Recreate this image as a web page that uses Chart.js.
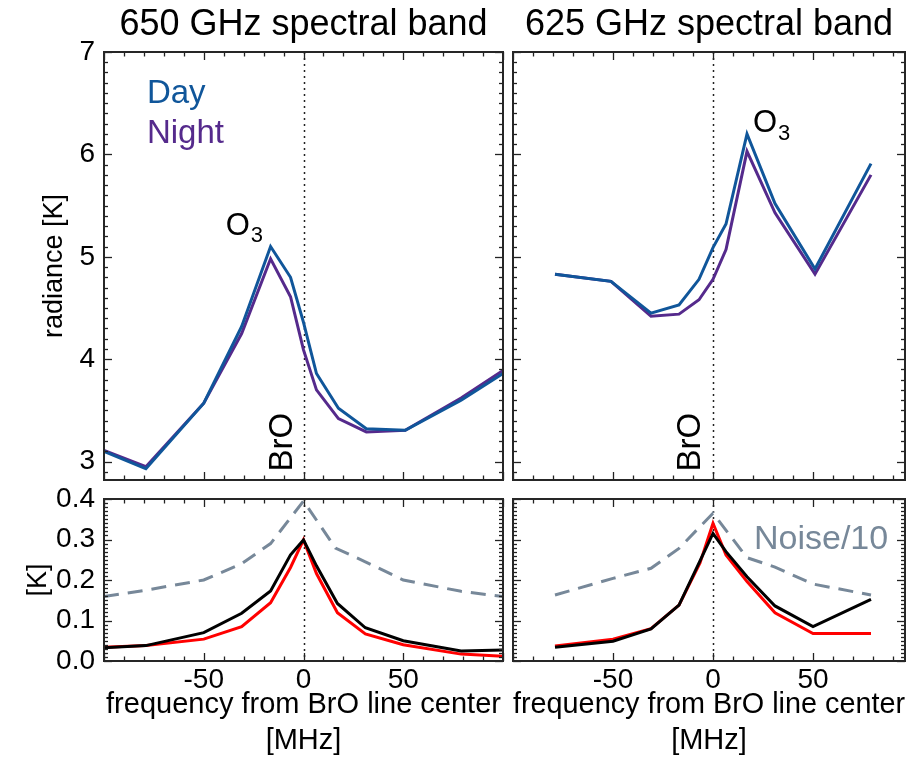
<!DOCTYPE html>
<html>
<head>
<meta charset="utf-8">
<script src="https://cdn.jsdelivr.net/npm/chart.js@4.4.1/dist/chart.umd.min.js"></script>
<style>
html,body{margin:0;padding:0;background:#fff;overflow:hidden;width:911px;height:757px;position:relative;}
canvas{position:absolute;}
</style>
</head>
<body>
<canvas id="cA" width="607" height="485" style="left:0;top:0;width:607px;height:485px"></canvas>
<canvas id="cB" width="404" height="485" style="left:507px;top:0;width:404px;height:485px"></canvas>
<canvas id="cC" width="607" height="276" style="left:0;top:485px;width:607px;height:276px"></canvas>
<canvas id="cD" width="404" height="276" style="left:507px;top:485px;width:404px;height:276px"></canvas>
<script>
// ---------------- data ----------------
const panelTitles = ['650 GHz spectral band', '625 GHz spectral band'];
const xTickValues = [-50, 0, 50];
const topYTickValues = [3, 4, 5, 6, 7];
const botYTickValues = [0, 0.1, 0.2, 0.3, 0.4];

// top panels: radiance [K]
const freq650Top = [-100, -79, -50, -31, -16.5, -6.5, 0, 6.5, 17.5, 31.5, 51, 79, 100];
const day650    = [3.10, 2.93, 3.57, 4.32, 5.10, 4.80, 4.36, 3.86, 3.52, 3.32, 3.305, 3.60, 3.86];
const night650  = [3.11, 2.95, 3.57, 4.25, 4.98, 4.61, 4.09, 3.70, 3.42, 3.29, 3.305, 3.62, 3.89];

const freq625Top = [-79, -51, -31, -17, -7, 0, 6.5, 17, 31, 51, 79];
const day625     = [4.83, 4.76, 4.45, 4.53, 4.78, 5.09, 5.32, 6.20, 5.52, 4.88, 5.91];
const night625   = [4.83, 4.76, 4.42, 4.44, 4.58, 4.78, 5.07, 6.03, 5.43, 4.83, 5.80];

// bottom panels: [K]
const freq650Bot = [-100, -79, -50, -31, -16.5, -6.5, 0, 6.5, 17, 31, 50, 79, 100];
const black650   = [0.033, 0.038, 0.070, 0.118, 0.173, 0.262, 0.299, 0.235, 0.142, 0.082, 0.050, 0.025, 0.027];
const red650     = [0.034, 0.038, 0.054, 0.085, 0.144, 0.231, 0.299, 0.216, 0.119, 0.067, 0.040, 0.017, 0.012];
const noiseFreq650 = [-100, -79, -50, -31, -16.5, 0, 16, 31, 50, 79, 100];
const noise650     = [0.159, 0.175, 0.200, 0.240, 0.290, 0.395, 0.279, 0.245, 0.200, 0.172, 0.159];

const freq625Bot = [-79, -50, -31, -17, -6.5, 0, 6.5, 17, 31, 50, 79];
const black625   = [0.034, 0.049, 0.079, 0.138, 0.247, 0.315, 0.270, 0.208, 0.136, 0.085, 0.152];
const red625     = [0.037, 0.054, 0.080, 0.138, 0.242, 0.340, 0.262, 0.196, 0.119, 0.068, 0.068];
const noiseFreq625 = [-79, -50, -31, -17, 0, 17, 31, 50, 79];
const noise625     = [0.163, 0.204, 0.229, 0.278, 0.365, 0.255, 0.232, 0.190, 0.163];

// ---------------- styling ----------------
const FONT = 'Liberation Sans, Arial, Helvetica, sans-serif';
const DAY = '#10569a', NIGHT = '#552a8c', NOISE = '#778899';
Chart.defaults.font.family = FONT;
Chart.defaults.color = '#000';

const pts = (xs, ys) => xs.map((x, i) => ({x: x, y: ys[i]}));

const idlFrame = {
  id: 'idlFrame',
  beforeDatasetsDraw(chart, args, o) {
    const {ctx, chartArea: a, scales: {x}} = chart;
    const px = Math.round(x.getPixelForValue(0)) + 0.5;
    ctx.save();
    ctx.strokeStyle = '#222'; ctx.lineWidth = 1.5; ctx.setLineDash([2, 4]);
    ctx.beginPath(); ctx.moveTo(px, a.top); ctx.lineTo(px, a.bottom); ctx.stroke();
    ctx.restore();
  },
  afterDraw(chart, args, o) {
    const {ctx, chartArea: a, scales: {x, y}} = chart;
    ctx.save();
    ctx.strokeStyle = '#222'; ctx.lineWidth = 1.3;
    const seg = (x1, y1, x2, y2) => { ctx.beginPath(); ctx.moveTo(x1, y1); ctx.lineTo(x2, y2); ctx.stroke(); };
    const isMajor = (v, m) => Math.abs(v / m - Math.round(v / m)) < 1e-6;
    for (let i = Math.ceil(x.min / o.xMinor - 1e-9); i * o.xMinor <= x.max + 1e-9; i++) {
      const v = i * o.xMinor, p = Math.round(x.getPixelForValue(v)) + 0.5;
      const len = isMajor(v, o.xMajor) ? 8 : 4.5;
      seg(p, a.bottom, p, a.bottom - len); seg(p, a.top, p, a.top + len);
    }
    for (let i = Math.ceil(y.min / o.yMinor - 1e-9); i * o.yMinor <= y.max + 1e-9; i++) {
      const v = i * o.yMinor, p = Math.round(y.getPixelForValue(v)) + 0.5;
      const len = isMajor(v, o.yMajor) ? 8 : 4;
      seg(a.left, p, a.left + len, p); seg(a.right, p, a.right - len, p);
    }
    ctx.lineWidth = 2; ctx.strokeStyle = '#262626';
    ctx.strokeRect(a.left, a.top, a.right - a.left, a.bottom - a.top);
    ctx.restore();
  }
};

const annotate = {
  id: 'annotate',
  afterDraw(chart, args, o) {
    const {ctx, scales: {x, y}} = chart;
    (o.items || []).forEach(it => {
      ctx.save();
      ctx.translate(x.getPixelForValue(it.x), y.getPixelForValue(it.y));
      if (it.rotate) ctx.rotate(it.rotate * Math.PI / 180);
      ctx.font = it.font; ctx.fillStyle = it.color || '#000';
      ctx.textAlign = it.align || 'left'; ctx.textBaseline = 'middle';
      ctx.fillText(it.text, 0, 0);
      if (it.sub) {
        const w = ctx.measureText(it.text).width;
        ctx.font = it.subFont; ctx.textAlign = 'left';
        ctx.fillText(it.sub, w + 1, it.subDy);
      }
      ctx.restore();
    });
  }
};

function panel(id, cfg) {
  const fixed = (w) => (s) => {
    if (s.isHorizontal()) s.height = w; else s.width = w;
    s.paddingTop = 0; s.paddingBottom = 0; s.paddingLeft = 0; s.paddingRight = 0;
  };
  const setTicks = (vals) => (s) => { s.ticks = vals.map(v => ({value: v})); };
  return new Chart(document.getElementById(id), {
    type: 'line',
    data: {datasets: cfg.datasets},
    plugins: [idlFrame, annotate],
    options: {
      responsive: false, animation: false, devicePixelRatio: 1,
      layout: {padding: cfg.padding, autoPadding: false},
      elements: {point: {radius: 0}, line: {tension: 0, borderWidth: 3, fill: false}},
      plugins: {
        legend: {display: false}, tooltip: {enabled: false},
        title: cfg.title ? {display: true, fullSize: false, text: cfg.title, color: '#000',
          font: {family: FONT, size: 36, weight: 'normal'}, padding: {top: 3, bottom: 5.8}} : {display: false},
        idlFrame: cfg.frame,
        annotate: {items: cfg.items || []}
      },
      scales: {
        x: {
          type: 'linear', position: 'bottom', min: -100, max: cfg.xMax,
          grid: {display: false, drawTicks: false}, border: {display: false},
          afterFit: fixed(cfg.xHeight),
          afterBuildTicks: setTicks(xTickValues),
          ticks: {display: cfg.xLabels, autoSkip: false, maxRotation: 0, minRotation: 0, padding: 2,
            font: {family: FONT, size: 28},
            callback: (v) => String(v)},
          title: cfg.xTitle ? {display: true, text: cfg.xTitle, color: '#000',
            font: {family: FONT, size: 29, lineHeight: 1.25}, padding: {top: 0, bottom: 1.9}} : {display: false}
        },
        y: {
          type: 'linear', min: cfg.yMin, max: cfg.yMax,
          grid: {display: false, drawTicks: false}, border: {display: false},
          afterFit: fixed(cfg.yWidth),
          afterBuildTicks: setTicks(cfg.yTicks),
          ticks: {display: cfg.yLabels, autoSkip: false, padding: 9,
            font: {family: FONT, size: 28},
            callback: cfg.yFmt},
          title: cfg.yTitle ? {display: true, text: cfg.yTitle, color: '#000',
            font: {family: FONT, size: cfg.yTitleSize}, padding: {top: cfg.yTitlePad, bottom: 0}} : {display: false}
        }
      }
    }
  });
}

const topFmt = (v) => String(v);
const botFmt = (v) => Number(v).toFixed(1);
const lineDs = (data, color, extra) => Object.assign({data: data, borderColor: color, borderWidth: 3}, extra || {});

// top-left
panel('cA', {
  title: panelTitles[0], padding: {left: 0, top: 0, right: 104, bottom: 0},
  xMax: 100, xHeight: 5, xLabels: false, yMin: 2.82, yMax: 7, yTicks: topYTickValues, yWidth: 104, yLabels: true, yFmt: topFmt,
  yTitle: 'radiance [K]', yTitleSize: 27, yTitlePad: 38.8,
  frame: {xMinor: 10, xMajor: 50, yMinor: 0.1, yMajor: 1},
  datasets: [lineDs(pts(freq650Top, day650), DAY), lineDs(pts(freq650Top, night650), NIGHT)],
  items: [
    {text: 'Day', x: -78.5, y: 6.59, font: '33px ' + FONT, color: DAY},
    {text: 'Night', x: -78.5, y: 6.20, font: '33px ' + FONT, color: NIGHT},
    {text: 'O', x: -39, y: 5.30, font: '31px ' + FONT, sub: '3', subFont: '22px ' + FONT, subDy: 10},
    {text: 'BrO', x: -10.5, y: 3.19, font: '33px ' + FONT, rotate: -90, align: 'center'}
  ]
});
// top-right
panel('cB', {
  title: panelTitles[1], padding: {left: 0, top: 0, right: 6, bottom: 0},
  xMax: 96, xHeight: 5, xLabels: false, yMin: 2.82, yMax: 7, yTicks: topYTickValues, yWidth: 6, yLabels: false, yFmt: topFmt,
  frame: {xMinor: 10, xMajor: 50, yMinor: 0.1, yMajor: 1},
  datasets: [lineDs(pts(freq625Top, day625), DAY), lineDs(pts(freq625Top, night625), NIGHT)],
  items: [
    {text: 'O', x: 20, y: 6.30, font: '31px ' + FONT, sub: '3', subFont: '22px ' + FONT, subDy: 10},
    {text: 'BrO', x: -11, y: 3.19, font: '33px ' + FONT, rotate: -90, align: 'center'}
  ]
});
// bottom-left
panel('cC', {
  padding: {left: 0, top: 14, right: 104, bottom: 0},
  xMax: 100, xHeight: 100, xLabels: true, xTitle: ['frequency from BrO line center', '[MHz]'],
  yMin: 0, yMax: 0.4, yTicks: botYTickValues, yWidth: 104, yLabels: true, yFmt: botFmt,
  yTitle: '[K]', yTitleSize: 27, yTitlePad: 22.8,
  frame: {xMinor: 10, xMajor: 50, yMinor: 0.01, yMajor: 0.1},
  datasets: [
    lineDs(pts(noiseFreq650, noise650), NOISE, {borderDash: [15, 9]}),
    lineDs(pts(freq650Bot, black650), '#000'),
    lineDs(pts(freq650Bot, red650), '#ff0000')
  ]
});
// bottom-right
panel('cD', {
  padding: {left: 0, top: 14, right: 6, bottom: 0},
  xMax: 96, xHeight: 100, xLabels: true, xTitle: ['frequency from BrO line center', '[MHz]'],
  yMin: 0, yMax: 0.4, yTicks: botYTickValues, yWidth: 6, yLabels: false, yFmt: botFmt,
  frame: {xMinor: 10, xMajor: 50, yMinor: 0.01, yMajor: 0.1},
  datasets: [
    lineDs(pts(noiseFreq625, noise625), NOISE, {borderDash: [15, 9]}),
    lineDs(pts(freq625Bot, black625), '#000'),
    lineDs(pts(freq625Bot, red625), '#ff0000')
  ],
  items: [
    {text: 'Noise/10', x: 20.5, y: 0.30, font: '34px ' + FONT, color: NOISE}
  ]
});
</script>
</body>
</html>
